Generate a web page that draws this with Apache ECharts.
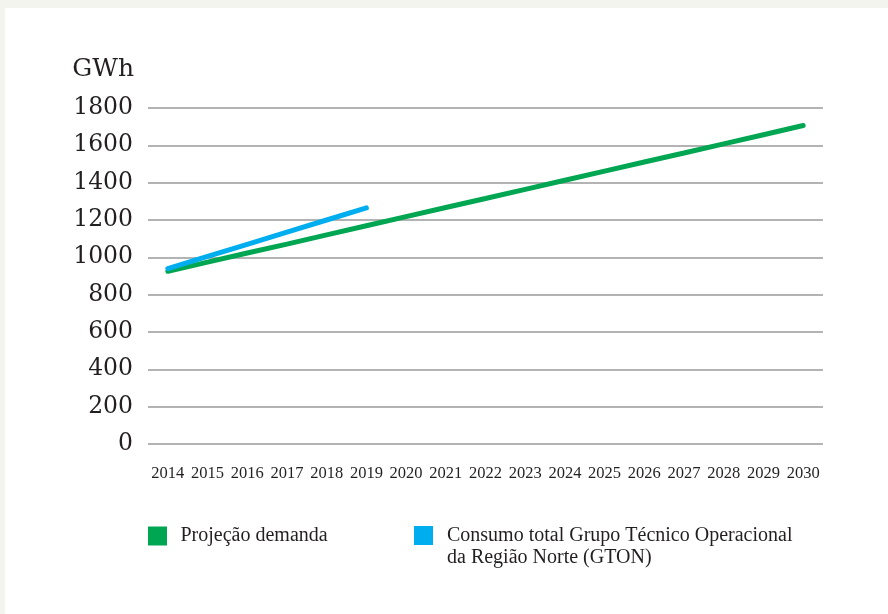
<!DOCTYPE html>
<html>
<head>
<meta charset="utf-8">
<script src="https://cdn.jsdelivr.net/npm/echarts@6/dist/echarts.min.js"></script>
<style>
  html, body { margin: 0; padding: 0; background: #f4f4ee; width: 888px; height: 614px; overflow: hidden; }
  #chart { position: absolute; left: 5px; top: 8px; width: 883px; height: 606px; background: #ffffff; }
</style>
</head>
<body>
<div id="chart"></div>
<script>
const years = ['2014','2015','2016','2017','2018','2019','2020','2021','2022','2023','2024','2025','2026','2027','2028','2029','2030'];
const projecaoDemanda = [925, 974, 1023, 1071, 1120, 1169, 1218, 1267, 1315, 1364, 1413, 1462, 1511, 1559, 1608, 1657, 1706];
const consumoGTON = [940, 1005, 1070, 1135, 1200, 1265];
const yTicks = { min: 0, max: 1800, interval: 200 };
const nameDemanda = 'Projeção demanda';
const nameGTON = 'Consumo total Grupo Técnico Operacional\nda Região Norte (GTON)';

const chart = echarts.init(document.getElementById('chart'), null, { renderer: 'canvas' });
const textColor = '#231f20';
const legendFont = { fontFamily: 'Liberation Serif', fontSize: 20, color: textColor };
chart.setOption({
  backgroundColor: '#ffffff',
  animation: false,
  grid: { left: 143, right: 65, top: 100, bottom: 170 },
  xAxis: {
    type: 'category',
    data: years,
    boundaryGap: true,
    axisLine: { show: false },
    axisTick: { show: false },
    axisLabel: { margin: 21, fontFamily: 'Liberation Serif', fontSize: 16.5, color: textColor, interval: 0 }
  },
  yAxis: {
    type: 'value',
    min: yTicks.min, max: yTicks.max, interval: yTicks.interval,
    name: 'GWh',
    nameLocation: 'end',
    nameGap: 26,
    nameTextStyle: { fontFamily: 'DejaVu Serif', fontSize: 25, color: textColor, align: 'right', padding: [0, 14, 0, 0] },
    axisLine: { show: false },
    axisTick: { show: false },
    axisLabel: { margin: 15, fontFamily: 'DejaVu Serif', fontSize: 23.5, color: textColor, formatter: v => String(v) },
    splitLine: { lineStyle: { color: '#9a9a9a', width: 1.5 } }
  },
  legend: [
    {
      left: 143, top: 518, padding: 0, orient: 'horizontal',
      icon: 'rect', itemWidth: 19, itemHeight: 19,
      data: [nameDemanda],
      textStyle: Object.assign({ lineHeight: 19, padding: [0, 0, 0, 8.5] }, legendFont)
    },
    {
      left: 409, top: 494.5, padding: 0, orient: 'horizontal',
      icon: 'rect', itemWidth: 19, itemHeight: 19,
      data: [nameGTON],
      formatter: n => '\n' + n,
      textStyle: Object.assign({ lineHeight: 22, padding: [0, 0, 0, 9] }, legendFont)
    }
  ],
  series: [
    {
      name: nameDemanda, type: 'line', data: projecaoDemanda,
      symbol: 'none', color: '#00a651',
      lineStyle: { width: 5, cap: 'round', color: '#00a651' }
    },
    {
      name: nameGTON, type: 'line', data: consumoGTON,
      symbol: 'none', color: '#00aeef',
      lineStyle: { width: 5, cap: 'round', color: '#00aeef' }
    }
  ]
});
</script>
</body>
</html>
